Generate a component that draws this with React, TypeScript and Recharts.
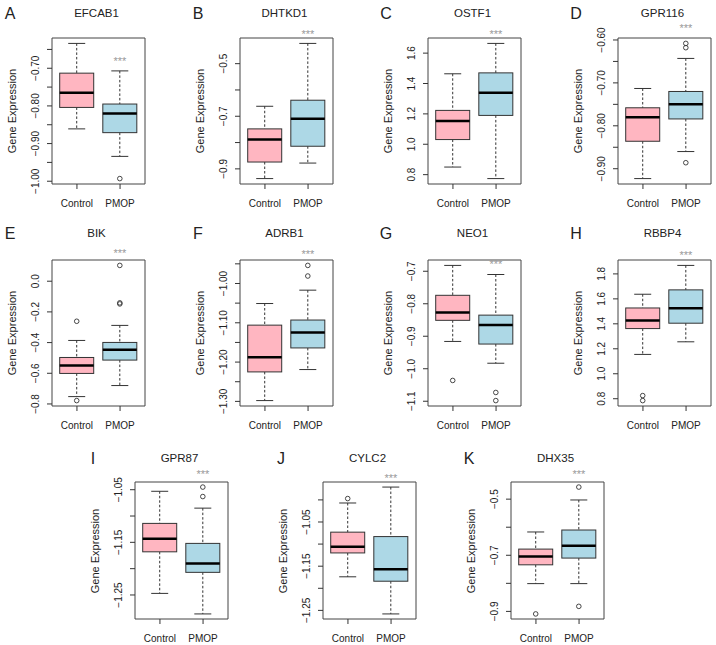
import { ComposedChart, Bar, XAxis, YAxis, CartesianGrid } from 'recharts'

const GROUPS = ['Control', 'PMOP']
const GENES = ['EFCAB1', 'DHTKD1', 'OSTF1', 'GPR116', 'BIK', 'ADRB1', 'NEO1', 'RBBP4', 'GPR87', 'CYLC2', 'DHX35']
const LETTERS = ['A', 'B', 'C', 'D', 'E', 'F', 'G', 'H', 'I', 'J', 'K']

// [lower whisker, Q1, median, Q3, upper whisker]
const CONTROL_BOX = [
  [-0.861, -0.804, -0.765, -0.713, -0.634],
  [-0.937, -0.874, -0.788, -0.748, -0.662],
  [0.85, 1.031, 1.153, 1.223, 1.464],
  [-0.923, -0.836, -0.78, -0.758, -0.713],
  [-0.752, -0.601, -0.549, -0.497, -0.386],
  [-1.298, -1.225, -1.188, -1.106, -1.051],
  [-0.916, -0.851, -0.827, -0.774, -0.682],
  [1.155, 1.362, 1.427, 1.527, 1.637],
  [-1.247, -1.168, -1.143, -1.114, -1.053],
  [-1.174, -1.12, -1.106, -1.073, -1.007],
  [-0.801, -0.734, -0.704, -0.678, -0.617],
]
const PMOP_BOX = [
  [-0.934, -0.871, -0.82, -0.795, -0.707],
  [-0.878, -0.814, -0.709, -0.639, -0.423],
  [0.774, 1.19, 1.339, 1.47, 1.664],
  [-0.86, -0.784, -0.75, -0.72, -0.643],
  [-0.68, -0.514, -0.446, -0.399, -0.288],
  [-1.219, -1.164, -1.125, -1.093, -1.017],
  [-0.983, -0.924, -0.865, -0.835, -0.71],
  [1.256, 1.405, 1.525, 1.672, 1.868],
  [-1.286, -1.207, -1.19, -1.152, -1.085],
  [-1.258, -1.184, -1.157, -1.083, -0.971],
  [-0.801, -0.71, -0.666, -0.61, -0.503],
]
const CONTROL_OUTLIERS = [[], [], [], [], [-0.261, -0.778], [], [-1.036], [0.825, 0.785], [], [-0.997], [-0.909]]
const PMOP_OUTLIERS = [
  [-0.993], [], [], [-0.608, -0.618, -0.886], [0.103, -0.141, -0.148],
  [-0.954, -0.981], [-1.073, -1.098], [], [-1.045, -1.063], [], [-0.457, -0.882],
]

const Y_TICKS = [
  [-1.0, -0.95, -0.9, -0.85, -0.8, -0.75, -0.7, -0.65],
  [-0.9, -0.8, -0.7, -0.6, -0.5],
  [0.8, 1.0, 1.2, 1.4, 1.6],
  [-0.9, -0.85, -0.8, -0.75, -0.7, -0.65, -0.6],
  [-0.8, -0.6, -0.4, -0.2, 0],
  [-1.3, -1.25, -1.2, -1.15, -1.1, -1.05, -1.0, -0.95],
  [-1.1, -1.0, -0.9, -0.8, -0.7],
  [0.8, 1.0, 1.2, 1.4, 1.6, 1.8],
  [-1.25, -1.2, -1.15, -1.1, -1.05],
  [-1.25, -1.2, -1.15, -1.1, -1.05, -1.0],
  [-0.9, -0.8, -0.7, -0.6, -0.5],
]
// empty string = tick mark without a label (R drops overlapping labels)
const Y_TICK_LABELS = [
  ['−1.00', '', '−0.90', '', '−0.80', '', '−0.70', ''],
  ['−0.9', '', '−0.7', '', '−0.5'],
  ['0.8', '1.0', '1.2', '1.4', '1.6'],
  ['−0.90', '', '−0.80', '', '−0.70', '', '−0.60'],
  ['−0.8', '−0.6', '−0.4', '−0.2', '0.0'],
  ['−1.30', '', '−1.20', '', '−1.10', '', '−1.00', ''],
  ['−1.1', '−1.0', '−0.9', '−0.8', '−0.7'],
  ['0.8', '1.0', '1.2', '1.4', '1.6', '1.8'],
  ['−1.25', '', '−1.15', '', '−1.05'],
  ['−1.25', '', '−1.15', '', '−1.05', ''],
  ['−0.9', '', '−0.7', '', '−0.5'],
]
const SIG_MARK = '***'
const SIG_Y = [-0.676, -0.38, 1.736, -0.568, 0.196, -0.92, -0.674, 1.963, -1.017, -0.946, -0.405]
const Y_TITLE = 'Gene Expression'

// layout
const FONT = '"Liberation Sans", Arial, Helvetica, sans-serif'
const INK = '#333'
const FILLS = ['#FFB6C1', '#ADD8E6']
const FRAME_W = 93
const AXIS_W = 50
const TOP_PAD = 22
const RIGHT_PAD = 4
const X_AXIS_H = 30
const ROWS = [
  { y0: 38, h: 146, titleY: 14, cols: [52, 240, 428, 618] },
  { y0: 260, h: 146, titleY: 234, cols: [52, 240, 428, 618] },
  { y0: 482, h: 137, titleY: 459, cols: [135, 323, 511] },
]

function renderBox(p: any) {
  const { x, y, width, height, payload } = p
  const [lw, q1, med, q3, uw] = payload.box
  const top = Math.min(y, y + height)
  const bot = Math.max(y, y + height)
  const py = (v: number) => top + ((uw - v) / (uw - lw)) * (bot - top)
  const cx = x + width / 2
  const cap = width / 4
  return (
    <g>
      <line x1={cx} x2={cx} y1={py(uw)} y2={py(q3)} stroke={INK} strokeDasharray="2.5 2" />
      <line x1={cx} x2={cx} y1={py(q1)} y2={py(lw)} stroke={INK} strokeDasharray="2.5 2" />
      <line x1={cx - cap} x2={cx + cap} y1={py(uw)} y2={py(uw)} stroke={INK} />
      <line x1={cx - cap} x2={cx + cap} y1={py(lw)} y2={py(lw)} stroke={INK} />
      <rect x={x} y={py(q3)} width={width} height={py(q1) - py(q3)} fill={payload.fill} stroke={INK} />
      <line x1={x} x2={x + width} y1={py(med)} y2={py(med)} stroke="#000" strokeWidth={2.5} />
      {payload.outliers.map((v: number, k: number) => (
        <circle key={k} cx={cx} cy={py(v)} r={2.3} fill="none" stroke={INK} strokeWidth={0.9} />
      ))}
      {payload.sig != null && (
        <text x={cx} y={py(payload.sig) + 5.5} textAnchor="middle" fontSize={11} fill="#999" fontFamily={FONT}>
          {SIG_MARK}
        </text>
      )}
    </g>
  )
}

function GenePanel({ gi, x0, y0, h, titleY }: { gi: number; x0: number; y0: number; h: number; titleY: number }) {
  const rows = GROUPS.map((group, k) => {
    const box = k === 0 ? CONTROL_BOX[gi] : PMOP_BOX[gi]
    return {
      group,
      box,
      span: [box[0], box[4]],
      outliers: k === 0 ? CONTROL_OUTLIERS[gi] : PMOP_OUTLIERS[gi],
      sig: k === 1 ? SIG_Y[gi] : null,
      fill: FILLS[k],
    }
  })
  const all = rows.flatMap((r) => [...r.box, ...r.outliers])
  const lo = Math.min(...all)
  const hi = Math.max(...all)
  const ext = (hi - lo) * 0.04
  const ticks = Y_TICKS[gi]
  const labels = Y_TICK_LABELS[gi]

  return (
    <>
      <div
        style={{
          position: 'absolute', left: x0 - 42, top: titleY, transform: 'translate(-50%, -50%)',
          fontSize: 16, lineHeight: 1, color: '#222',
        }}
      >
        {LETTERS[gi]}
      </div>
      <div
        style={{
          position: 'absolute', left: x0 + FRAME_W / 2 - 2, top: titleY, transform: 'translate(-50%, -50%)',
          fontSize: 11.5, lineHeight: 1, color: '#222', whiteSpace: 'nowrap',
        }}
      >
        {GENES[gi]}
      </div>
      <div
        style={{
          position: 'absolute', left: x0 - 40, top: y0 + h / 2, transform: 'translate(-50%, -50%) rotate(-90deg)',
          fontSize: 11, lineHeight: 1, color: '#222', whiteSpace: 'nowrap',
        }}
      >
        {Y_TITLE}
      </div>
      <div style={{ position: 'absolute', left: x0 - AXIS_W, top: y0 - TOP_PAD }}>
        <ComposedChart
          width={AXIS_W + FRAME_W + RIGHT_PAD}
          height={TOP_PAD + h + X_AXIS_H}
          data={rows}
          margin={{ top: TOP_PAD, right: RIGHT_PAD, bottom: 0, left: 0 }}
        >
          <CartesianGrid
            stroke="#444"
            horizontalCoordinatesGenerator={({ offset }: any) => [offset.top, offset.top + offset.height]}
            verticalCoordinatesGenerator={({ offset }: any) => [offset.left, offset.left + offset.width]}
          />
          <XAxis
            dataKey="group"
            height={X_AXIS_H}
            axisLine={false}
            tickSize={5}
            tickMargin={2}
            interval={0}
            padding={{ left: 3.4, right: 3.4 }}
            stroke={INK}
            tick={(t: any) => (
              <text x={t.x} y={t.y + 16} textAnchor="middle" fontSize={10} fill="#222" fontFamily={FONT}>
                {t.payload.value}
              </text>
            )}
          />
          <YAxis
            type="number"
            width={AXIS_W}
            domain={[lo - ext, hi + ext]}
            ticks={ticks}
            interval={0}
            axisLine={false}
            tickSize={5}
            tickMargin={2}
            stroke={INK}
            tick={(t: any) => {
              const idx = ticks.findIndex((v) => Math.abs(v - t.payload.value) < 1e-9)
              const label = idx >= 0 ? labels[idx] : ''
              const tx = t.x - 5.9
              return (
                <text
                  x={tx}
                  y={t.y}
                  transform={`rotate(-90 ${tx} ${t.y})`}
                  textAnchor="middle"
                  fontSize={10}
                  fill="#222"
                  fontFamily={FONT}
                >
                  {label}
                </text>
              )
            }}
          />
          <Bar dataKey="span" shape={renderBox} isAnimationActive={false} />
        </ComposedChart>
      </div>
    </>
  )
}

export default function App() {
  let gi = 0
  const panels: any[] = []
  ROWS.forEach((row) => {
    row.cols.forEach((x0) => {
      panels.push(<GenePanel key={gi} gi={gi} x0={x0} y0={row.y0} h={row.h} titleY={row.titleY} />)
      gi += 1
    })
  })
  return (
    <div
      style={{
        position: 'absolute', left: 0, top: 0, width: 716, height: 645, background: '#fff',
        fontFamily: FONT, overflow: 'hidden',
      }}
    >
      {panels}
    </div>
  )
}
